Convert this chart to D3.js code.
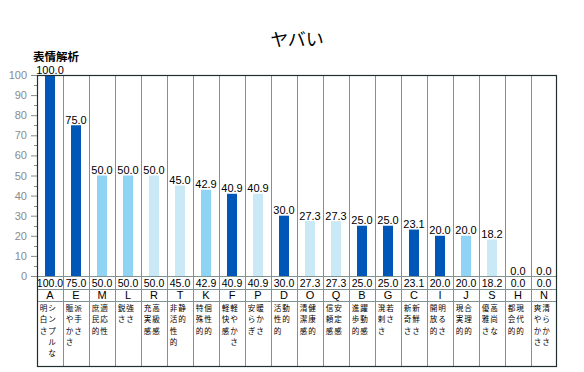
<!DOCTYPE html>
<html>
<head>
<meta charset="utf-8">
<script src="https://cdn.jsdelivr.net/npm/d3@7"></script>
<style>
  body { margin: 0; background: #fff; }
  svg { display: block; }
  text { font-family: "Liberation Sans", Arial, sans-serif; }
  .jp { font-family: "Noto Sans CJK JP", sans-serif; }
</style>
</head>
<body>
<div id="chart"></div>
<script>
// 表情解析 data
const categories = ["A", "E", "M", "L", "R", "T", "K", "F", "P", "D", "O", "Q", "B", "G", "C", "I", "J", "S", "H", "N"];
const values = [100.0, 75.0, 50.0, 50.0, 50.0, 45.0, 42.9, 40.9, 40.9, 30.0, 27.3, 27.3, 25.0, 25.0, 23.1, 20.0, 20.0, 18.2, 0.0, 0.0];
const tones = ["dark", "dark", "mid", "mid", "light", "light", "mid", "dark", "light", "dark", "light", "light", "dark", "dark", "dark", "dark", "mid", "light", "light", "light"];
const leftWords = ["明白さ", "賑やかさ", "庶民的", "鋭さ", "充実感", "非活性的", "特殊的", "軽快感", "安らぎ", "活性的", "清潔感", "信頼感", "進歩的", "溌剌さ", "新奇さ", "開放的", "現実的", "優雅さ", "都会的", "爽やかさ"];
const rightWords = ["シンプルな", "派手さ", "適応性", "強さ", "高級感", "静的", "個性的", "軽やかさ", "暖かさ", "動的", "健康的", "安定感", "躍動感", "若さ", "新鮮さ", "明るさ", "合理的", "高尚な", "現代的", "清らかさ"];
const yTicks = [0, 10, 20, 30, 40, 50, 60, 70, 80, 90, 100];

const width = 584, height = 372;
const plotL = 37, plotR = 557, plotT = 75, base = 276;
const rowValue = 289, rowLetter = 301, plotB = 366;

const toneColor = { dark: "#0057b8", mid: "#8fd4f5", light: "#c9e9f7" };
const gridColor = "#809393";
const frameColor = "#1f2f2f";

const svg = d3.select("#chart")
    .append("svg")
    .attr("width", width)
    .attr("height", height);

const x = d3.scaleBand()
    .domain(categories)
    .range([plotL, plotR]);

const y = d3.scaleLinear()
    .domain([0, 100])
    .range([base, plotT]);

// title
svg.append("text")
    .attr("class", "jp")
    .attr("x", (plotL + plotR) / 2)
    .attr("y", 46)
    .attr("text-anchor", "middle")
    .style("font-size", "18px")
    .text("ヤバい");

svg.append("text")
    .attr("class", "jp")
    .attr("x", 33)
    .attr("y", 60.5)
    .style("font-size", "11.5px")
    .style("font-weight", "bold")
    .text("表情解析");

// y axis
const yAxis = d3.axisLeft(y)
    .tickValues(yTicks)
    .tickSize(6)
    .tickPadding(4)
    .tickFormat(d3.format("d"));

const yg = svg.append("g")
    .attr("transform", `translate(${plotL},0)`)
    .call(yAxis);
yg.select(".domain").remove();
yg.selectAll(".tick line").attr("stroke", "#8a8a8a");
yg.selectAll(".tick text")
    .attr("fill", "#8a8a8a")
    .style("font-size", "11px")
    .style("font-family", "'Liberation Sans', Arial, sans-serif");

// minor ticks
svg.append("g")
    .selectAll("line")
    .data(d3.range(5, 100, 10))
    .enter().append("line")
    .attr("x1", plotL - 3)
    .attr("x2", plotL)
    .attr("y1", d => Math.round(y(d)) + 0.5)
    .attr("y2", d => Math.round(y(d)) + 0.5)
    .attr("stroke", "#8a8a8a");

// vertical grid lines (through the table)
svg.append("g")
    .selectAll("line")
    .data(categories.slice(1))
    .enter().append("line")
    .attr("x1", d => Math.round(x(d)) + 0.5)
    .attr("x2", d => Math.round(x(d)) + 0.5)
    .attr("y1", plotT)
    .attr("y2", plotB)
    .attr("stroke", gridColor);

// table horizontal lines
svg.append("g")
    .selectAll("line")
    .data([base, rowValue, rowLetter])
    .enter().append("line")
    .attr("x1", plotL)
    .attr("x2", plotR)
    .attr("y1", d => d + 0.5)
    .attr("y2", d => d + 0.5)
    .attr("stroke", gridColor);

// bars
const barW = 10;
svg.append("g")
    .selectAll("rect")
    .data(categories)
    .enter().append("rect")
    .attr("x", d => Math.round(x(d) + x.bandwidth() / 2 - barW / 2))
    .attr("y", (d, i) => y(values[i]))
    .attr("width", barW)
    .attr("height", (d, i) => base - y(values[i]))
    .attr("fill", (d, i) => toneColor[tones[i]]);

// value labels above bars
svg.append("g")
    .selectAll("text")
    .data(categories)
    .enter().append("text")
    .attr("x", d => x(d) + x.bandwidth() / 2)
    .attr("y", (d, i) => y(values[i]) - 1.5)
    .attr("text-anchor", "middle")
    .style("font-size", "11px")
    .text((d, i) => values[i].toFixed(1));

// table: values row
svg.append("g")
    .selectAll("text")
    .data(categories)
    .enter().append("text")
    .attr("x", d => x(d) + x.bandwidth() / 2)
    .attr("y", rowValue - 2)
    .attr("text-anchor", "middle")
    .style("font-size", "10.5px")
    .text((d, i) => values[i].toFixed(1));

// table: letters row
svg.append("g")
    .selectAll("text")
    .data(categories)
    .enter().append("text")
    .attr("x", d => x(d) + x.bandwidth() / 2)
    .attr("y", rowLetter - 2)
    .attr("text-anchor", "middle")
    .style("font-size", "11px")
    .text(d => d);

// table: vertical words, two lines per column, one glyph per cell
const pitch = 11.3;
function verticalWord(word, cx) {
    return Array.from(word).map((ch, k) => ({ ch, cx, cy: rowLetter + 10 + k * pitch }));
}
const chars = [];
categories.forEach((c, i) => {
    chars.push(...verticalWord(leftWords[i], x(c) + 6.5));
    chars.push(...verticalWord(rightWords[i], x(c) + 15));
});
svg.append("g")
    .selectAll("text")
    .data(chars)
    .enter().append("text")
    .attr("class", "jp")
    .attr("x", d => d.cx)
    .attr("y", d => d.cy)
    .attr("text-anchor", "middle")
    .style("font-size", "7.6px")
    .text(d => d.ch);

// frame
svg.append("rect")
    .attr("x", plotL + 0.5)
    .attr("y", plotT + 0.5)
    .attr("width", plotR - plotL - 1)
    .attr("height", plotB - plotT)
    .attr("fill", "none")
    .attr("stroke", frameColor)
    .attr("stroke-width", 1.2);
</script>
</body>
</html>
